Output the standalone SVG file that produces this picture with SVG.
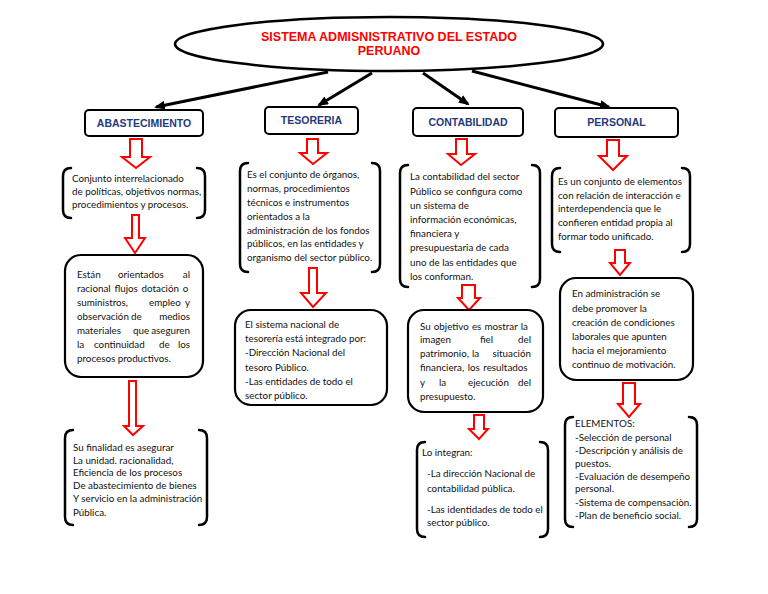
<svg xmlns="http://www.w3.org/2000/svg" width="768" height="594" viewBox="0 0 768 594">
<style>
.hdr{fill:#fff;stroke:#000;stroke-width:2}
.hdrt{font-family:"Liberation Sans",Arial,sans-serif;font-weight:bold;font-size:10.5px;fill:#1F3A7A;text-anchor:middle}
.title{font-family:"Liberation Sans",Arial,sans-serif;font-weight:bold;font-size:12.5px;fill:#FF0000;text-anchor:middle}
.br{fill:none;stroke:#000;stroke-width:2.5;stroke-linecap:round}
.rb{fill:#fff;stroke:#000;stroke-width:2.2}
.tx{font-family:Lato,"Open Sans",sans-serif;font-size:9.8px;fill:#111}
.e{text-anchor:end}
.ra{fill:#fff;stroke:#FF0000;stroke-width:2;stroke-linejoin:miter}
.con{stroke:#000;stroke-width:3;fill:none}
</style>
<defs>
<marker id="ah" markerWidth="11" markerHeight="9" refX="9" refY="4.5" orient="auto" markerUnits="userSpaceOnUse">
<path d="M0,0 L11,4.5 L0,9 Z" fill="#000"/>
</marker>
</defs>
<rect width="768" height="594" fill="#fff"/>

<g id="connectors">
<line class="con" x1="328" y1="72" x2="156" y2="107" marker-end="url(#ah)"/>
<line class="con" x1="372" y1="73" x2="319" y2="105" marker-end="url(#ah)"/>
<line class="con" x1="423" y1="73" x2="468" y2="104" marker-end="url(#ah)"/>
<line class="con" x1="472" y1="71" x2="609" y2="107" marker-end="url(#ah)"/>
</g>

<g id="root">
<ellipse cx="389" cy="44" rx="214" ry="27" fill="#fff" stroke="#000" stroke-width="2.5"/>
<text class="title" x="389" y="41">SISTEMA ADMISNISTRATIVO DEL ESTADO</text>
<text class="title" x="389" y="55">PERUANO</text>
</g>

<g id="abastecimiento">
<rect class="hdr" x="85" y="110" width="118" height="26" rx="4"/>
<text class="hdrt" x="144" y="127">ABASTECIMIENTO</text>
</g>
<g id="tesoreria">
<rect class="hdr" x="265" y="107" width="93" height="27" rx="4"/>
<text class="hdrt" x="311.5" y="124">TESORERIA</text>
</g>
<g id="contabilidad">
<rect class="hdr" x="413" y="108" width="110" height="28" rx="4"/>
<text class="hdrt" x="468" y="126">CONTABILIDAD</text>
</g>
<g id="personal">
<rect class="hdr" x="555" y="108" width="123" height="29" rx="4"/>
<text class="hdrt" x="616.5" y="126">PERSONAL</text>
</g>

<g id="red-arrows">
<path class="ra" d="M130,139 L142,139 L142,157 L150,157 L136,168 L122,157 L130,157 Z"/>
<path class="ra" d="M132,215 L139,215 L139,238 L145,238 L135,253 L125,238 L132,238 Z"/>
<path class="ra" d="M129,381 L136,381 L136,426 L143,426 L133,435 L124,426 L129,426 Z"/>
<path class="ra" d="M307,139 L318,139 L318,153 L327,153 L313,164 L300,153 L307,153 Z"/>
<path class="ra" d="M309,268 L317,268 L317,293 L326,293 L313,307 L301,293 L309,293 Z"/>
<path class="ra" d="M456,139 L467,139 L467,154 L475,154 L461,165 L448,154 L456,154 Z"/>
<path class="ra" d="M462,285 L475,285 L475,298 L480,298 L469,310 L458,298 L462,298 Z"/>
<path class="ra" d="M474,415 L484,415 L484,429 L488,429 L479,439 L469,429 L474,429 Z"/>
<path class="ra" d="M607,140 L619,140 L619,156 L627,156 L613,170 L599,156 L607,156 Z"/>
<path class="ra" d="M615,250 L625,250 L625,263 L630,263 L620,275 L610,263 L615,263 Z"/>
<path class="ra" d="M623,383 L635,383 L635,404 L640,404 L629,417 L618,404 L623,404 Z"/>
</g>

<g id="abast-1">
<path class="br" d="M71,168 Q63,168 63,176 L63,210 Q63,218 71,218"/>
<path class="br" d="M197,168 Q205,168 205,176 L205,210 Q205,218 197,218"/>
<text class="tx" x="72" y="182">Conjunto interrelacionado</text>
<text class="tx" x="72" y="195">de políticas, objetivos normas,</text>
<text class="tx" x="72" y="208">procedimientos y procesos.</text>
</g>
<g id="abast-2">
<rect class="rb" x="65" y="255" width="138" height="122" rx="16"/>
<text class="tx" y="278"><tspan x="77">Están</tspan><tspan x="118">orientados</tspan></text><text class="tx e" x="190" y="278">al</text>
<text class="tx" x="77" y="292" word-spacing="1.3">racional flujos dotación o</text>
<text class="tx" y="306"><tspan x="77">suministros,</tspan><tspan x="149">empleo</tspan></text><text class="tx e" x="190" y="306">y</text>
<text class="tx" y="320"><tspan x="77">observación</tspan><tspan x="131">de</tspan></text><text class="tx e" x="190" y="320">medios</text>
<text class="tx" y="334"><tspan x="77">materiales</tspan><tspan x="133">que</tspan></text><text class="tx e" x="190" y="334">aseguren</text>
<text class="tx" y="348"><tspan x="77">la</tspan><tspan x="94">continuidad</tspan><tspan x="159">de</tspan></text><text class="tx e" x="190" y="348">los</text>
<text class="tx" x="77" y="362">procesos productivos.</text>
</g>
<g id="abast-3">
<path class="br" d="M73,430 Q65,430 65,438 L65,517 Q65,525 73,525"/>
<path class="br" d="M199,430 Q207,430 207,438 L207,517 Q207,525 199,525"/>
<text class="tx" x="73" y="451">Su finalidad es asegurar</text>
<text class="tx" x="73" y="464">La unidad. racionalidad,</text>
<text class="tx" x="73" y="476">Eficiencia de los procesos</text>
<text class="tx" x="73" y="489">De abastecimiento de bienes</text>
<text class="tx" x="73" y="502">Y servicio en la administración</text>
<text class="tx" x="73" y="516">Pública.</text>
</g>

<g id="teso-1">
<path class="br" d="M248,163 Q240,163 240,171 L240,264 Q240,272 248,272"/>
<path class="br" d="M372,163 Q380,163 380,171 L380,264 Q380,272 372,272"/>
<text class="tx" x="247" y="178">Es el conjunto de órganos,</text>
<text class="tx" x="247" y="192">normas, procedimientos</text>
<text class="tx" x="247" y="206">técnicos e instrumentos</text>
<text class="tx" x="247" y="220">orientados a la</text>
<text class="tx" x="247" y="234">administración de los fondos</text>
<text class="tx" x="247" y="247">públicos, en las entidades y</text>
<text class="tx" x="247" y="261">organismo del sector público.</text>
</g>
<g id="teso-2">
<rect class="rb" x="235" y="310" width="152" height="95" rx="16"/>
<text class="tx" x="245" y="328">El sistema nacional de</text>
<text class="tx" x="245" y="342">tesorería está integrado por:</text>
<text class="tx" x="245" y="356">-Dirección Nacional del</text>
<text class="tx" x="245" y="371">tesoro Público.</text>
<text class="tx" x="245" y="385">-Las entidades de todo el</text>
<text class="tx" x="245" y="399">sector público.</text>
</g>

<g id="conta-1">
<path class="br" d="M408,165 Q400,165 400,173 L400,279 Q400,287 408,287"/>
<path class="br" d="M532,165 Q540,165 540,173 L540,279 Q540,287 532,287"/>
<text class="tx" x="410" y="180">La contabilidad del sector</text>
<text class="tx" x="410" y="195">Público se configura como</text>
<text class="tx" x="410" y="209">un sistema de</text>
<text class="tx" x="410" y="223">información económicas,</text>
<text class="tx" x="410" y="237">financiera y</text>
<text class="tx" x="410" y="251">presupuestaria de cada</text>
<text class="tx" x="410" y="266">uno de las entidades que</text>
<text class="tx" x="410" y="280">los conforman.</text>
</g>
<g id="conta-2">
<rect class="rb" x="408" y="310" width="135" height="102" rx="16"/>
<text class="tx" x="420" y="330" word-spacing="0.6">Su objetivo es mostrar la</text>
<text class="tx" y="343"><tspan x="420">imagen</tspan><tspan x="480">fiel</tspan></text><text class="tx e" x="531" y="343">del</text>
<text class="tx" y="357"><tspan x="420">patrimonio,</tspan><tspan x="472">la</tspan></text><text class="tx e" x="531" y="357">situación</text>
<text class="tx" x="420" y="371" word-spacing="1">financiera, los resultados</text>
<text class="tx" y="386"><tspan x="420">y</tspan><tspan x="439">la</tspan><tspan x="468">ejecución</tspan></text><text class="tx e" x="531" y="386">del</text>
<text class="tx" x="420" y="400">presupuesto.</text>
</g>
<g id="conta-3">
<path class="br" d="M425,442 Q417,442 417,450 L417,529 Q417,537 425,537"/>
<path class="br" d="M540,442 Q548,442 548,450 L548,529 Q548,537 540,537"/>
<text class="tx" x="422" y="456">Lo integran:</text>
<text class="tx" x="427" y="477">-La dirección Nacional de</text>
<text class="tx" x="427" y="492">contabilidad pública.</text>
<text class="tx" x="427" y="513">-Las identidades de todo el</text>
<text class="tx" x="427" y="526">sector público.</text>
</g>

<g id="pers-1">
<path class="br" d="M560,168 Q552,168 552,176 L552,244 Q552,252 560,252"/>
<path class="br" d="M682,168 Q690,168 690,176 L690,244 Q690,252 682,252"/>
<text class="tx" x="558" y="185">Es un conjunto de elementos</text>
<text class="tx" x="558" y="199">con relación de interacción e</text>
<text class="tx" x="558" y="212">interdependencia que le</text>
<text class="tx" x="558" y="226">confieren entidad propia al</text>
<text class="tx" x="558" y="240">formar todo unificado.</text>
</g>
<g id="pers-2">
<rect class="rb" x="560" y="278" width="133" height="102" rx="16"/>
<text class="tx" x="572" y="297">En administración se</text>
<text class="tx" x="572" y="312">debe promover la</text>
<text class="tx" x="572" y="326">creación de condiciones</text>
<text class="tx" x="572" y="340">laborales que apunten</text>
<text class="tx" x="572" y="354">hacia el mejoramiento</text>
<text class="tx" x="572" y="368">continuo de motivación.</text>
</g>
<g id="pers-3">
<path class="br" d="M573,417 Q565,417 565,425 L565,519 Q565,527 573,527"/>
<path class="br" d="M689,417 Q697,417 697,425 L697,519 Q697,527 689,527"/>
<text class="tx" x="575" y="427">ELEMENTOS:</text>
<text class="tx" x="575" y="441">-Selección de personal</text>
<text class="tx" x="575" y="454">-Descripción y análisis de</text>
<text class="tx" x="575" y="467">puestos.</text>
<text class="tx" x="575" y="480">-Evaluación de desempeño</text>
<text class="tx" x="575" y="492">personal.</text>
<text class="tx" x="575" y="506">-Sistema de compensaciòn.</text>
<text class="tx" x="575" y="519">-Plan de beneficio social.</text>
</g>
</svg>
